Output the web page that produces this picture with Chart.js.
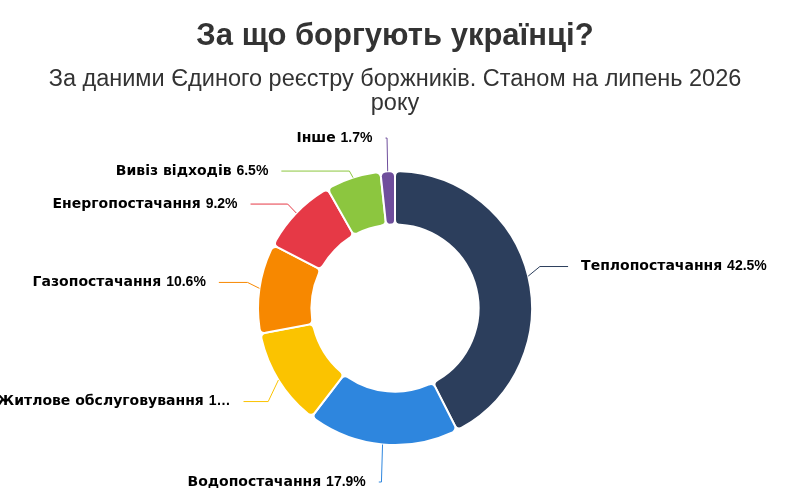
<!DOCTYPE html>
<html lang="uk">
<head>
<meta charset="utf-8">
<title>За що боргують українці?</title>
<script src="https://cdn.jsdelivr.net/npm/chart.js@4"></script>
<style>
  html, body { margin: 0; padding: 0; background: #fff; }
  #wrap { width: 800px; height: 504px; }
</style>
</head>
<body>
<div id="wrap"><canvas id="debt-chart" width="800" height="504"></canvas></div>
<script>
// Частки боргів за категоріями, %
const categories = ["Теплопостачання", "Водопостачання", "Житлове обслуговування", "Газопостачання", "Енергопостачання", "Вивіз відходів", "Інше"];
const shares = [42.5, 17.9, 11.6, 10.6, 9.2, 6.5, 1.7];
const sliceColors = ["#2c3e5c", "#2e86de", "#fbc300", "#f78800", "#e63946", "#8cc63f", "#6f4e9c"];

const titleText = "За що боргують українці?";
const subtitleLines = ["За даними Єдиного реєстру боржників. Станом на липень 2026", "року"];

const nameFont = "bold 14px 'DejaVu Sans', Verdana, sans-serif";
const valueFont = "bold 14px 'Liberation Sans', Arial, sans-serif";

// Підписи зовні кільця з лініями-виносками
const outsideLabels = {
    id: "outsideLabels",
    afterDatasetsDraw(chart) {
        const ctx = chart.ctx;
        const arcs = chart.getDatasetMeta(0).data;
        const ds = chart.data.datasets[0];
        const distance = 41, gap = 33, pad = 13, minX = -4;

        const items = arcs.map((arc, i) => {
            const p = arc.getProps(["x", "y", "startAngle", "endAngle", "outerRadius"], true);
            const mid = (p.startAngle + p.endAngle) / 2;
            const r = p.outerRadius + distance;
            return {
                i, mid, r, cx: p.x, cy: p.y, R: p.outerRadius,
                left: Math.cos(mid) < 0,
                naturalY: p.y + r * Math.sin(mid)
            };
        });

        [true, false].forEach(side => {
            const list = items.filter(it => it.left === side).sort((a, b) => a.naturalY - b.naturalY);
            if (!list.length) return;
            const top = list[0].cy - list[0].R - gap;
            const bottom = chart.height - 22;
            list.forEach((it, k) => {
                let y = Math.max(it.naturalY, top);
                if (k > 0) y = Math.max(y, list[k - 1].y + gap);
                it.y = y;
            });
            for (let k = list.length - 1; k >= 0; k--) {
                if (list[k].y > bottom) list[k].y = bottom;
                if (k < list.length - 1 && list[k].y > list[k + 1].y - gap) list[k].y = list[k + 1].y - gap;
            }
            list.forEach(it => {
                // біля верхньої/нижньої межі x рахуємо від природного положення
                const yForX = (it.y <= top + 2 || it.y >= bottom - 2) ? it.naturalY : it.y;
                const dy = Math.min(Math.abs(yForX - it.cy), it.r);
                const dx = Math.sqrt(it.r * it.r - dy * dy);
                it.x = it.cx + (it.left ? -dx : dx);
            });
        });

        ctx.save();
        items.forEach(it => {
            const color = ds.backgroundColor[it.i];
            const tx = it.cx + it.R * Math.cos(it.mid), ty = it.cy + it.R * Math.sin(it.mid);
            const bx = it.cx + (it.R + 12) * Math.cos(it.mid);
            ctx.strokeStyle = color;
            ctx.lineWidth = 1;
            ctx.beginPath();
            ctx.moveTo(it.x, it.y);
            // ламана: горизонтально до точки злому, далі до краю сектора
            if (it.left ? bx > it.x : bx < it.x) ctx.lineTo(bx, it.y);
            ctx.lineTo(tx, ty);
            ctx.stroke();

            // текст: назва + відсоток, з обрізанням якщо не влазить
            let name = categories[it.i] + " ";
            let value = ds.data[it.i] + "%";
            ctx.font = nameFont;
            let wName = ctx.measureText(name).width;
            ctx.font = valueFont;
            let wVal = ctx.measureText(value).width;
            const avail = it.left ? it.x - pad - minX : chart.width - (it.x + pad);
            if (wName + wVal > avail) {
                const full = name + value;
                const nameLen = name.length;
                const widthOf = n => {
                    const nPart = full.slice(0, Math.min(n, nameLen));
                    const vPart = full.slice(nameLen, Math.max(n, nameLen)) + "…";
                    ctx.font = nameFont;
                    const a = ctx.measureText(nPart).width;
                    ctx.font = valueFont;
                    return a + ctx.measureText(vPart).width;
                };
                let cut = full.length;
                while (cut > 0 && widthOf(cut) > avail) cut--;
                name = full.slice(0, Math.min(cut, nameLen));
                value = full.slice(nameLen, Math.max(cut, nameLen)) + "…";
                ctx.font = nameFont;
                wName = ctx.measureText(name).width;
                ctx.font = valueFont;
                wVal = ctx.measureText(value).width;
            }
            const startX = it.left ? it.x - pad - wName - wVal : it.x + pad;
            ctx.fillStyle = "#000";
            ctx.textBaseline = "middle";
            ctx.textAlign = "left";
            ctx.font = nameFont;
            ctx.fillText(name, startX, it.y);
            ctx.font = valueFont;
            ctx.fillText(value, startX + wName, it.y);
        });
        ctx.restore();
    }
};

new Chart(document.getElementById("debt-chart"), {
    type: "doughnut",
    data: {
        labels: categories,
        datasets: [{
            data: shares,
            backgroundColor: sliceColors,
            borderColor: "#ffffff",
            borderWidth: 2,
            borderRadius: 5,
            radius: 137,
            cutout: "61%"
        }]
    },
    options: {
        responsive: false,
        animation: false,
        devicePixelRatio: 1,
        layout: { padding: { left: 0, right: 10, top: 0, bottom: 3 } },
        plugins: {
            legend: { display: false },
            tooltip: { enabled: false },
            title: {
                display: true,
                text: titleText,
                color: "#333333",
                font: { family: "'Liberation Sans', Arial, sans-serif", size: 31, weight: "bold", lineHeight: 1.2 },
                padding: { top: 18, bottom: 3 }
            },
            subtitle: {
                display: true,
                text: subtitleLines,
                color: "#333333",
                font: { family: "'Liberation Sans', Arial, sans-serif", size: 23.5, weight: "normal", lineHeight: 1.02 },
                padding: { top: 9, bottom: 0 }
            }
        }
    },
    plugins: [outsideLabels]
});
</script>
</body>
</html>
